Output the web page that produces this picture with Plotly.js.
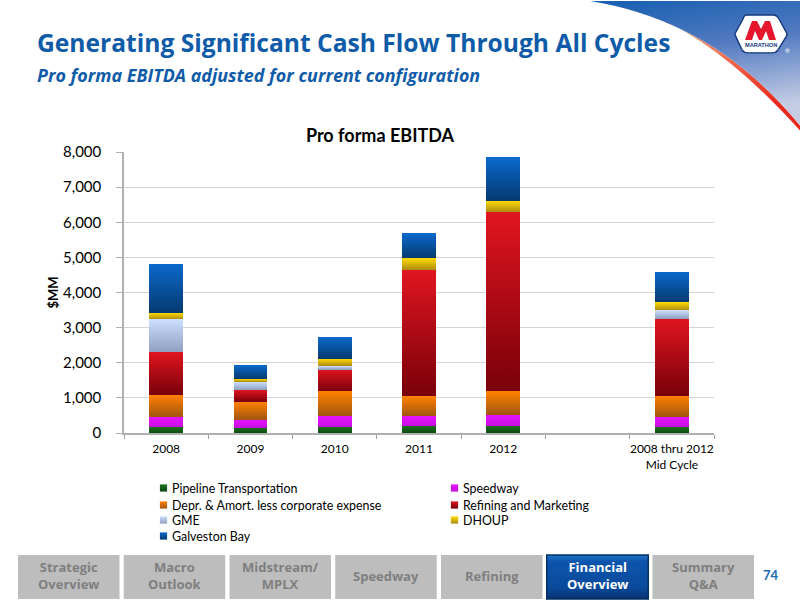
<!DOCTYPE html>
<html><head><meta charset="utf-8">
<script src="https://cdn.plot.ly/plotly-3.0.1.min.js"></script>
<style>html,body{margin:0;padding:0;background:#fff}#chart{width:800px;height:600px}</style>
</head><body><div id="chart"></div>
<script>
const categories = ['2008','2009','2010','2011','2012',' ','2008 thru 2012<br>Mid Cycle'];
const pipeline = [170,150,170,208,208,null,170];
const speedway = [284,228,303,265,312,null,293];
const depr = [624,500,709,567,662,null,596];
const refining = [1229,350,624,3594,5106,null,2194];
const gme = [927,227,104,null,null,null,236];
const dhoup = [189,85,208,349,331,null,237];
const galveston = [1400,398,615,700,1230,null,870];
const seriesNames = ['Pipeline Transportation','Speedway','Depr. & Amort. less corporate expense','Refining and Marketing','GME','DHOUP','Galveston Bay'];
const seriesValues = [pipeline,speedway,depr,refining,gme,dhoup,galveston];
const topColors = ['#1c701e','#e612ff','#ff8000','#e0151f','#cddfff','#ffdc00','#0a69cc'];
const bottomColors = ['#0e4a12','#c80fe0','#a0560f','#78000a','#8e9fc0','#ad8a12','#063a70'];
const midColors = ['#155d18','#d810f0','#d06c08','#ac0a14','#aebfe0','#d6b309','#08529e'];
const navLabels = ['Strategic<br>Overview','Macro<br>Outlook','Midstream/<br>MPLX','Speedway','Refining','Financial<br>Overview','Summary<br>Q&A'];
const activeNav = 5;
const titleText = 'Generating Significant Cash Flow Through All Cycles';
const subtitleText = 'Pro forma EBITDA adjusted for current configuration';
const chartTitle = 'Pro forma EBITDA';
const pageNumber = '74';

const L=124,R=714,T=151.5,B=433.5;
const px=x=>(x-L)/(R-L), py=y=>(B-y)/(B-T);

const bgSvg = `<svg xmlns="http://www.w3.org/2000/svg" width="800" height="600" viewBox="0 0 800 600">
<defs>
<linearGradient id="b" x1="0" y1="0" x2="0.25" y2="1"><stop offset="0" stop-color="#155fb0"/><stop offset="0.45" stop-color="#5078c0"/><stop offset="1" stop-color="#c4cde4"/></linearGradient>
<linearGradient id="o" x1="0" y1="0" x2="1" y2="0.6"><stop offset="0" stop-color="#fbe3d6"/><stop offset="0.45" stop-color="#f59a72"/><stop offset="1" stop-color="#e8281c"/></linearGradient>
</defs>
<path d="M640 10 Q715 35 800 130 L800 125 Q715 20 590 0Z" fill="url(#o)"/>
<path d="M590 0 Q715 20 800 125 L800 0Z" fill="url(#b)"/>
<path d="M747 14 L773 14 Q777 14 779 18 L786 31 Q788 33 786 36 L778 49 Q776 52 772 52 L748 52 Q744 52 742 49 L736 36 Q734 33 736 31 L743 18 Q744 14 747 14Z" fill="#fff" stroke="#14387e" stroke-width="1.4"/>
<path d="M745 39 L752 20 L757 20 L761 28 L765 20 L770 20 L776 39 L769 39 L766 30 L762 39 L759 39 L755 30 L752 39Z" fill="#e4152c"/>
</svg>`;

const traces = seriesNames.map((n,i)=>({
  type:'bar',name:n,x:categories,y:seriesValues[i],
  marker:{color:midColors[i],line:{width:0}},hoverinfo:'y+name'
}));

function ann(x,y,text,size,color,o){
  return Object.assign({xref:'paper',yref:'paper',x:px(x),y:py(y),text:text,showarrow:false,
    xanchor:'center',yanchor:'middle',font:{family:'Lato, sans-serif',size:size,color:color}},o||{});
}
const navLeft=i=>18+i*105.75, navW=101.5;
const shapes = navLabels.map((_,i)=>({
  type:'rect',xref:'paper',yref:'paper',layer:'below',
  x0:px(navLeft(i)),x1:px(navLeft(i)+navW),y0:py(556),y1:py(600),
  fillcolor:i===activeNav?'#0b4fa0':'#bdbdbd',line:{width:i===activeNav?1.5:0,color:'#062f66'}
}));
const annotations = [
  ann(34.5,41.5,titleText,24.6,'#0f5ba8',{xanchor:'left',font:{family:'Open Sans, sans-serif',size:24.6,color:'#0f5ba8',weight:700}}),
  ann(34.5,74.5,subtitleText,17.9,'#0f5ba8',{xanchor:'left',font:{family:'Open Sans, sans-serif',size:17.9,color:'#0f5ba8',weight:700,style:'italic'}}),
  ann(760.5,44,'MARATHON',5.6,'#14387e',{font:{family:'Liberation Sans, sans-serif',size:5.6,color:'#14387e',weight:700}}),
  ann(787,50,'®',6,'#ffffff'),
  ann(771,576,pageNumber,13,'#1a6cb5',{font:{family:'Lato, sans-serif',size:13,color:'#1a6cb5',weight:700}})
].concat(navLabels.map((t,i)=>ann(navLeft(i)+navW/2,577,t,14,i===activeNav?'#ffffff':'#7f7f7f',
  {font:{family:'Open Sans, sans-serif',size:13,color:i===activeNav?'#ffffff':'#7f7f7f',weight:700}})));

const layout = {
  width:800,height:600,barmode:'stack',bargap:0.6,showlegend:true,
  paper_bgcolor:'#fff',plot_bgcolor:'#fff',
  margin:{l:L,r:800-R,t:T,b:600-B,pad:0},
  title:{text:chartTitle,x:380/800,xref:'container',xanchor:'center',y:1-136/600,yref:'container',yanchor:'middle',
    font:{family:'Lato, sans-serif',size:18,color:'#000',weight:700}},
  xaxis:{type:'category',categoryorder:'array',categoryarray:categories,tickson:'boundaries',tickangle:0,
    ticks:'outside',ticklen:4,tickcolor:'#a0a0a0',showgrid:false,showline:true,linecolor:'#b0b0b0',linewidth:1.5,
    ticklabelstandoff:4,tickfont:{family:'Lato, sans-serif',size:12,color:'#000'},fixedrange:true},
  yaxis:{range:[0,8000],tickvals:[0,1000,2000,3000,4000,5000,6000,7000,8000],tickformat:',d',
    ticks:'outside',ticklen:6,tickcolor:'#b0b0b0',showgrid:true,gridcolor:'#d4d4d4',gridwidth:1.3,
    showline:true,linecolor:'#b0b0b0',linewidth:1.5,ticklabelstandoff:12,zeroline:false,
    tickfont:{family:'Lato, sans-serif',size:15,color:'#000'},
    title:{text:'$MM',font:{family:'Lato, sans-serif',size:13,color:'#000',weight:700}},fixedrange:true},
  legend:{orientation:'h',traceorder:'normal',x:px(145),xanchor:'left',y:py(478),yanchor:'top',entrywidth:250,entrywidthmode:'pixels',
    font:{family:'Lato, sans-serif',size:12.4,color:'#000'},bgcolor:'rgba(0,0,0,0)',itemclick:false,itemdoubleclick:false},
  images:[{source:'data:image/svg+xml;utf8,'+encodeURIComponent(bgSvg),xref:'paper',yref:'paper',
    x:px(0),y:py(0),sizex:800/(R-L),sizey:600/(B-T),sizing:'stretch',xanchor:'left',yanchor:'top',layer:'below'}],
  shapes:shapes,annotations:annotations,hovermode:'closest'
};

Plotly.newPlot('chart',traces,layout,{displayModeBar:false,responsive:false}).then(gd=>{
  const svg=gd.querySelector('svg.main-svg');
  const NS='http://www.w3.org/2000/svg';
  const defs=svg.querySelector('defs')||svg.insertBefore(document.createElementNS(NS,'defs'),svg.firstChild);
  const addGrad=(id,stops)=>{
    const g=document.createElementNS(NS,'linearGradient');
    g.setAttribute('id',id);g.setAttribute('x1','0');g.setAttribute('y1','0');g.setAttribute('x2','0');g.setAttribute('y2','1');
    stops.forEach(([o,c])=>{
      const s=document.createElementNS(NS,'stop');s.setAttribute('offset',o);s.setAttribute('stop-color',c);g.appendChild(s);});
    defs.appendChild(g);
  };
  seriesNames.forEach((_,i)=>addGrad('sg'+i,[[0,topColors[i]],[1,bottomColors[i]]]));
  addGrad('navg',[[0,'#1e73c8'],[0.15,'#0c55ac'],[0.75,'#0a4a9a'],[1,'#06316e']]);
  gd.querySelectorAll('.barlayer .trace').forEach((t,i)=>{
    t.querySelectorAll('.point path').forEach(p=>{p.style.fill='url(#sg'+i+')';});
  });
  const navShape=gd.querySelectorAll('.layer-below .shapelayer path')[activeNav];
  if(navShape)navShape.style.fill='url(#navg)';
  const colX=[160,451], rowY=[488,505,520,536];
  const legend=gd.querySelector('.legend');
  const lt=legend.getAttribute('transform').match(/translate\(([-\d.]+),\s*([-\d.]+)\)/);
  const lx=+lt[1], ly=+lt[2];
  legend.querySelectorAll('.traces').forEach((t,i)=>{
    t.setAttribute('transform','translate('+(colX[i%2]-lx)+','+(rowY[Math.floor(i/2)]-ly)+')');
    const sw=t.querySelector('.legendpoints path');
    if(sw){sw.style.fill='url(#sg'+i+')';sw.style.stroke='none';sw.setAttribute('transform','scale(0.6)');
      const gp=t.querySelector('.legendpoints');gp.setAttribute('transform','translate(3.5,0)');}
    const tx=t.querySelector('.legendtext');if(tx){tx.setAttribute('x','12');}
  });
  const clip=legend.querySelector('.scrollbox');
  if(clip)clip.removeAttribute('clip-path');
  legend.style.clipPath='none';
});
</script></body></html>
